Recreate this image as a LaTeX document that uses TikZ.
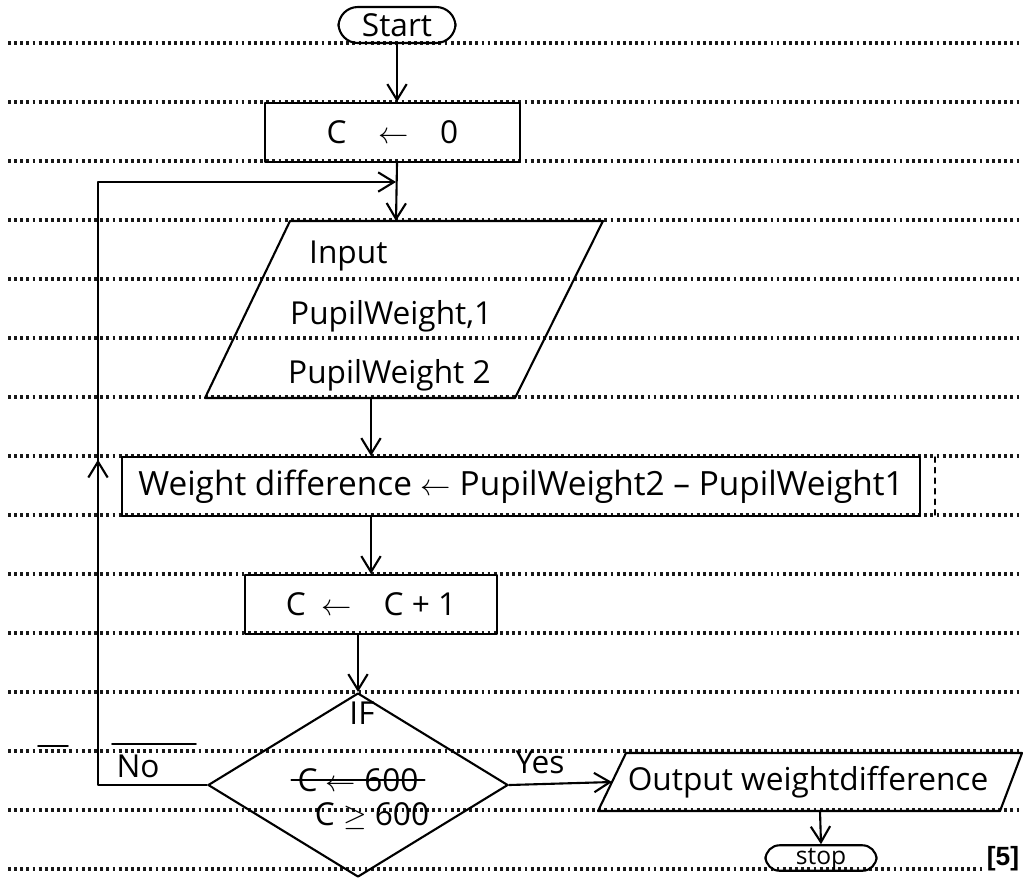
\documentclass[tikz,border=0pt]{standalone}
\usepackage{fontspec}
\setmainfont{Open Sans}
\newfontfamily\markfont{Liberation Sans}
\usetikzlibrary{shapes.geometric,arrows.meta,decorations.markings}

\begin{document}
\begin{tikzpicture}[x=0.02cm, y=-0.02cm, line cap=round, line join=round]

% ---------------- styles ----------------
\tikzset{
  ruled/.style   ={line width=1.8pt, line cap=butt, dash pattern=on 1.6pt off 1.9pt, black!90},
  term/.style    ={draw, line width=1.2pt, rounded corners=11pt, inner sep=0pt},
  procbox/.style ={draw, line width=1.2pt, inner sep=0pt},
  iopath/.style  ={draw, line width=1.2pt},
  decision/.style={draw, line width=1.2pt, diamond, inner sep=0pt},
  hand/.style    ={font=\fontsize{18}{21}\selectfont},
  arr/.style     ={line width=1.2pt, -{Straight Barb[length=9pt, width=11pt]}}
}

% ---------------- parameters ----------------
\def\px{0.02cm}   % one pixel of the scan
\def\rowH{59}     % spacing of the ruled lines
\def\rowA{43}     % first ruled line

% ---------------- page ----------------
\useasboundingbox[fill=white] (0,0) rectangle (1023,877);
\foreach \k in {0,...,13}
  \draw[ruled] (8,{\rowA+\rowH*\k}) -- (1020,{\rowA+\rowH*\k});
\draw[ruled] (8,869) -- (985,869);

% ---------------- boxes ----------------
\node[term, hand, minimum width=117*\px, minimum height=36*\px] (start) at (397,25) {Start};
\node[procbox, hand, minimum width=255*\px, minimum height=59*\px] (init) at (392.5,132.5)
  {C\quad$\leftarrow$\quad 0};

% input parallelogram
\path[iopath] (205,398) -- (515,398) -- (603,221) -- (290,221) -- cycle;
\coordinate (inTop) at (396,221);
\coordinate (inBot) at (371,398);
\node[hand, anchor=west] (inA) at (303,256) {Input};
\node[hand, anchor=west] (inB) at (284,316) {PupilWeight,1};
\node[hand, anchor=west] (inC) at (282,375) {PupilWeight 2};

\node[procbox, font=\fontsize{19}{22}\selectfont, minimum width=798*\px, minimum height=59*\px]
  (diff) at (521,486.5) {Weight difference $\leftarrow$ PupilWeight2 -- PupilWeight1};
\node[procbox, hand, minimum width=252*\px, minimum height=59*\px] (inc) at (371,604.5)
  {C\enspace$\leftarrow$\quad C + 1};

% decision
\node[decision, minimum width=300*\px, minimum height=184*\px] (cond) at (358,785) {};
\node[hand] (condIf) at (362,713) {IF};
\node[hand] (condOld) at (358,780) {C $\leftarrow$ 600};
\draw[line width=1pt] (condOld.west) -- (condOld.east);
\node[hand] (condNew) at (372,816) {C $\geq$ 600};

% output parallelogram
\path[iopath] (598,811) -- (1000,811) -- (1022,753) -- (626,753) -- cycle;
\coordinate (outLeft) at (612,782);
\coordinate (outBot)  at (820,811);
\node[hand] (output) at (808,782) {Output weightdifference};

\node[term, font=\fontsize{14}{17}\selectfont, rounded corners=8pt, text height=11pt,
      text depth=3.5pt, minimum width=111*\px] (stop) at (821,858) {stop};
\node[font=\markfont\bfseries\fontsize{15}{18}\selectfont, inner sep=0pt] (mark) at (1003,859) {[5]};

% ---------------- labels ----------------
\node[hand] (yesLbl) at (540,762) {Yes};
\node[hand] (noLbl) at (138,766) {No};

% ---------------- connectors ----------------
\coordinate (join)   at (396,182);
\coordinate (noBend) at (98,785);

\draw[arr] (start.south) -- (start.south |- init.north);
\draw[arr] (start.south |- init.south) -- (inTop);
\draw[arr] (inBot) -- (inBot |- diff.north);
\draw[arr] (diff.south -| inc.north) -- (inc.north);
\draw[arr] (inc.south -| cond.north) -- (cond.north);
\draw[arr] (cond.east) -- (outLeft);
\draw[arr] (outBot) -- (stop.north);

% loop back from "No"
\draw[arr, postaction=decorate, decoration={markings,
      mark=at position 0.43 with {\arrow{Straight Barb[length=9pt, width=11pt]}}}]
  (cond.west) -- (noBend) -- (noBend |- join) -- (join);

% stray pen strokes
\draw[line width=1pt] (38,746) -- (68,746);
\draw[line width=1pt] (112,744) -- (196,744);
\draw[line width=0.8pt, dashed] (935,457) -- (935,516);

\end{tikzpicture}
\end{document}
